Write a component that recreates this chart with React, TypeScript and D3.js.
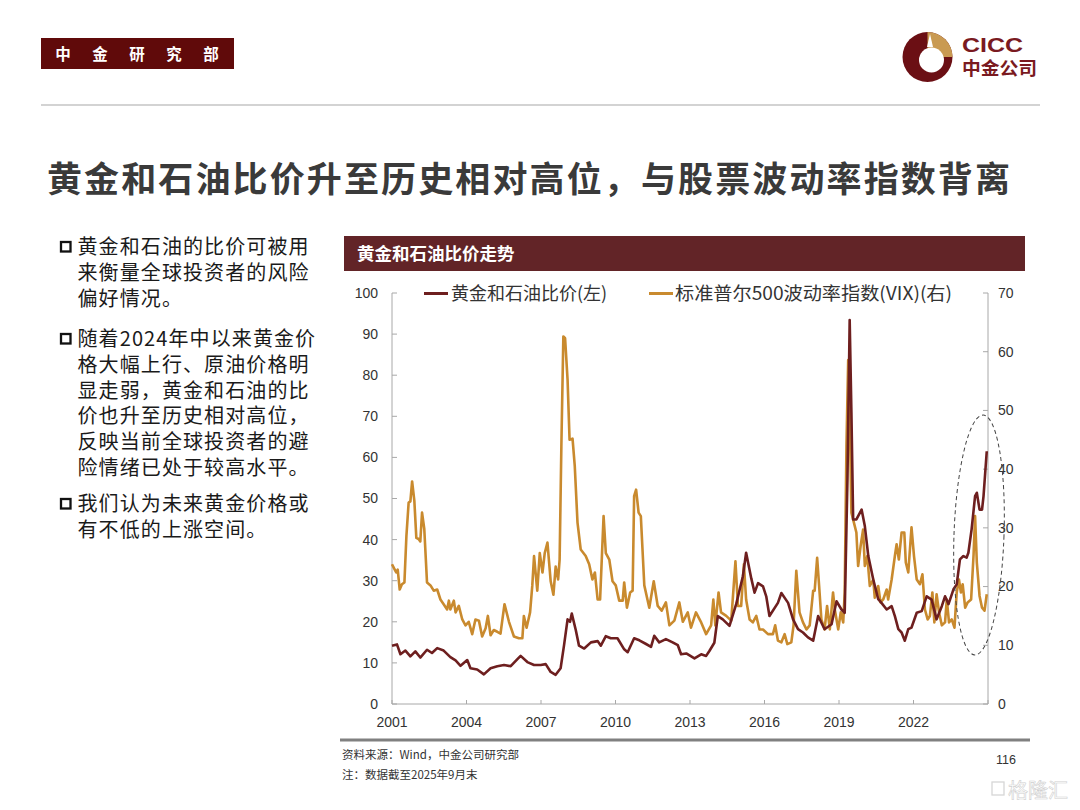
import React from "react";
import * as d3 from "d3";

// ---- data (x positions in axis-year units as displayed) ----
const ratioDates = [2001.0,2001.2,2001.34,2001.54,2001.74,2001.94,2002.14,2002.41,2002.61,2002.82,2003.08,2003.35,2003.56,2003.76,2004.03,2004.16,2004.43,2004.7,2004.97,2005.24,2005.51,2005.78,2006.05,2006.18,2006.45,2006.72,2006.99,2007.19,2007.39,2007.59,2007.79,2007.93,2008.07,2008.17,2008.24,2008.4,2008.53,2008.74,2009.01,2009.28,2009.41,2009.61,2009.81,2010.08,2010.35,2010.49,2010.75,2010.96,2011.23,2011.43,2011.56,2011.76,2012.03,2012.3,2012.51,2012.64,2012.85,2013.18,2013.45,2013.65,2013.78,2013.98,2014.12,2014.32,2014.59,2014.86,2015.13,2015.26,2015.47,2015.6,2015.74,2015.94,2016.07,2016.2,2016.54,2016.68,2016.95,2017.15,2017.35,2017.55,2017.75,2017.96,2018.16,2018.42,2018.7,2018.9,2019.1,2019.23,2019.34,2019.43,2019.5,2019.57,2019.7,2019.91,2020.04,2020.18,2020.38,2020.58,2020.71,2020.92,2021.12,2021.25,2021.39,2021.52,2021.65,2021.79,2021.92,2022.13,2022.33,2022.53,2022.73,2022.93,2023.14,2023.27,2023.41,2023.61,2023.74,2023.87,2024.01,2024.14,2024.21,2024.34,2024.48,2024.55,2024.66,2024.76,2024.82,2024.95];
const ratioValues = [14.2,14.5,12.1,13.0,11.6,12.8,11.3,13.2,12.4,13.6,13.0,11.4,10.6,9.3,10.7,8.7,8.4,7.2,8.7,9.2,9.5,9.2,10.9,11.7,10.2,9.5,9.5,9.7,7.8,7.1,8.7,14.4,20.6,20.0,22.0,18.0,14.2,13.5,15.0,15.3,14.2,16.5,16.0,16.0,13.3,12.6,16.0,15.5,14.6,13.9,16.6,15.0,15.8,15.0,14.3,12.1,12.3,11.1,12.1,11.7,12.9,14.9,21.4,20.6,19.0,24.3,31.1,36.8,30.5,27.1,29.4,28.6,26.2,21.4,24.6,27.0,24.6,20.6,18.2,17.4,16.2,15.4,21.4,18.2,19.4,25.0,23.0,22.2,54.6,93.4,70.8,44.9,44.9,47.3,43.3,36.0,30.3,25.5,24.6,23.0,23.8,21.4,18.2,17.4,15.4,18.2,18.6,22.2,22.6,26.2,25.4,20.6,23.8,26.2,24.3,27.9,29.1,35.2,36.0,35.6,36.8,42.5,50.6,51.4,47.3,47.3,50.6,61.5];

const vixDates = [2001.0,2001.11,2001.17,2001.23,2001.31,2001.4,2001.5,2001.58,2001.67,2001.74,2001.81,2001.9,2001.98,2002.07,2002.14,2002.21,2002.3,2002.41,2002.55,2002.68,2002.82,2002.95,2003.08,2003.22,2003.29,2003.35,2003.49,2003.56,2003.69,2003.83,2003.96,2004.09,2004.23,2004.36,2004.5,2004.63,2004.77,2004.86,2004.97,2005.1,2005.24,2005.37,2005.53,2005.71,2005.91,2006.11,2006.25,2006.31,2006.42,2006.56,2006.65,2006.72,2006.85,2006.95,2007.06,2007.15,2007.26,2007.39,2007.5,2007.59,2007.69,2007.75,2007.82,2007.9,2007.97,2008.07,2008.15,2008.27,2008.36,2008.47,2008.6,2008.8,2008.94,2009.07,2009.17,2009.28,2009.38,2009.52,2009.61,2009.75,2009.88,2010.01,2010.15,2010.29,2010.35,2010.46,2010.59,2010.69,2010.75,2010.83,2010.93,2011.02,2011.16,2011.36,2011.54,2011.7,2011.86,2012.03,2012.17,2012.37,2012.57,2012.71,2012.91,2013.04,2013.24,2013.45,2013.65,2013.85,2013.94,2014.02,2014.15,2014.25,2014.46,2014.66,2014.83,2014.93,2015.06,2015.17,2015.26,2015.4,2015.53,2015.67,2015.8,2015.94,2016.14,2016.34,2016.43,2016.54,2016.68,2016.81,2016.92,2017.08,2017.17,2017.28,2017.41,2017.55,2017.69,2017.82,2017.96,2018.02,2018.12,2018.2,2018.29,2018.42,2018.52,2018.63,2018.76,2018.83,2018.97,2019.07,2019.17,2019.23,2019.3,2019.37,2019.43,2019.5,2019.57,2019.7,2019.77,2019.87,2019.97,2020.04,2020.14,2020.24,2020.38,2020.44,2020.58,2020.67,2020.78,2020.92,2020.98,2021.12,2021.25,2021.32,2021.41,2021.52,2021.63,2021.69,2021.79,2021.92,2022.02,2022.13,2022.26,2022.36,2022.46,2022.57,2022.66,2022.76,2022.84,2022.93,2023.03,2023.14,2023.27,2023.34,2023.43,2023.54,2023.65,2023.74,2023.83,2023.91,2023.98,2024.08,2024.18,2024.32,2024.42,2024.48,2024.55,2024.66,2024.76,2024.86,2024.95];
const vixValues = [23.8,22.9,22.4,22.9,19.5,20.4,20.7,28.6,34.3,34.5,37.9,34.6,28.3,28.1,27.7,32.6,29.8,20.7,20.2,19.3,19.5,17.8,17.0,16.1,17.6,16.1,17.6,15.6,16.7,14.4,13.4,14.0,11.9,14.4,14.2,11.5,12.9,15.0,11.7,12.6,12.3,12.0,17.0,14.0,11.5,11.2,11.2,15.0,13.0,15.6,20.2,25.2,19.3,25.7,22.4,25.7,27.5,20.9,18.6,23.4,21.2,24.6,43.9,62.6,62.3,55.2,45.0,45.2,40.5,30.9,26.3,25.2,23.8,21.2,22.4,17.8,17.8,32.0,25.7,24.6,20.9,20.2,17.6,17.6,20.7,16.4,19.0,19.3,35.4,36.5,32.6,32.0,20.2,16.4,20.9,16.7,15.9,17.3,13.4,14.2,17.3,14.0,15.6,13.0,15.6,13.9,11.9,13.4,17.8,13.4,19.0,15.6,15.0,14.2,24.3,16.7,16.7,23.8,17.8,14.4,13.9,15.0,12.7,12.7,11.9,11.9,13.4,10.8,10.5,11.9,10.2,10.5,13.4,22.7,15.6,13.9,12.7,13.4,19.3,19.3,24.9,20.1,14.4,12.7,16.7,12.7,19.0,16.1,12.7,15.6,13.9,19.0,43.9,58.6,49.6,32.6,31.4,29.2,23.5,26.9,29.7,23.5,25.2,20.1,21.2,18.1,20.1,17.3,17.8,19.5,17.8,21.2,25.2,27.2,24.6,29.2,29.2,24.1,22.4,30.1,25.2,21.2,20.4,22.1,16.1,14.4,15.0,19.0,13.9,18.7,15.6,13.4,13.9,17.8,13.9,14.4,13.0,19.0,21.2,19.0,20.4,16.4,17.3,17.8,25.5,32.0,24.1,18.4,16.4,15.9,18.7];

const xTickYears = [2001, 2004, 2007, 2010, 2013, 2016, 2019, 2022, 2025];
const xTickLabels = ["2001", "2004", "2007", "2010", "2013", "2016", "2019", "2022", ""];
const leftTicks = [0, 10, 20, 30, 40, 50, 60, 70, 80, 90, 100];
const rightTicks = [0, 10, 20, 30, 40, 50, 60, 70];

const seriesNames = ["黄金和石油比价(左)", "标准普尔500波动率指数(VIX)(右)"];
const bulletGroups = [
  ["黄金和石油的比价可被用", "来衡量全球投资者的风险", "偏好情况。"],
  ["随着2024年中以来黄金价", "格大幅上行、原油价格明", "显走弱，黄金和石油的比", "价也升至历史相对高位，", "反映当前全球投资者的避", "险情绪已处于较高水平。"],
  ["我们认为未来黄金价格或", "有不低的上涨空间。"],
];
const headerChars = ["中", "金", "研", "究", "部"];

const RED = "#6e1f1f";
const ORANGE = "#c98a2e";
const CJK = "'Noto Sans CJK SC', 'Noto Sans', sans-serif";
const LAT = "'Liberation Sans', Arial, sans-serif";

export default function App() {
  const x = d3.scaleLinear().domain([2001, 2025]).range([392, 988]);
  const yL = d3.scaleLinear().domain([0, 100]).range([704, 293]);
  const yR = d3.scaleLinear().domain([0, 70]).range([704, 293]);

  const ratioPts: [number, number][] = ratioDates.map((d, i) => [d, ratioValues[i]]);
  const vixPts: [number, number][] = vixDates.map((d, i) => [d, vixValues[i]]);
  const lineL = d3.line<[number, number]>().x((d) => x(d[0])).y((d) => yL(d[1]));
  const lineR = d3.line<[number, number]>().x((d) => x(d[0])).y((d) => yR(d[1]));

  const axisCol = "#a8a8a8";
  const textCol = "#333";

  const lc = { x: 927.5, y: 57, r: 25 };
  const goldPath = `M${lc.x},${lc.y} L${lc.x},${lc.y - lc.r} A${lc.r},${lc.r} 0 0 1 ${lc.x + lc.r},${lc.y} Z`;

  const bulletStartY = [254, 346, 511];

  return (
    <svg width={1080} height={810} style={{ position: "absolute", left: 0, top: 0, background: "#fff" }}>
      <rect x={0} y={0} width={1080} height={810} fill="#fff" />
      {/* header banner */}
      <rect x={41} y={38} width={193} height={31} fill="#600a0a" />
      {headerChars.map((c, i) => (
        <text key={i} x={63 + i * 37} y={59.5} fill="#fff" fontSize={15.5} fontWeight="bold" fontFamily={CJK} textAnchor="middle">{c}</text>
      ))}
      {/* logo */}
      <circle cx={lc.x} cy={lc.y} r={lc.r} fill="#6b0f14" />
      <path d={goldPath} fill="#c99a52" />
      <circle cx={931.5} cy={60} r={12.5} fill="#fff" />
      <path d={`M927,47 L930,34 L933,47 Z`} fill="#fff" />
      <text x={962} y={52} fill="#7a1a1f" fontSize={21} fontWeight="bold" fontFamily={LAT} textLength={61} lengthAdjust="spacingAndGlyphs">CICC</text>
      <text x={962} y={75} fill="#7a1a1f" fontSize={18} fontWeight="bold" fontFamily={CJK} textLength={75} lengthAdjust="spacingAndGlyphs">中金公司</text>
      {/* header rule */}
      <line x1={41} x2={1040} y1={105} y2={105} stroke="#d3d3d3" strokeWidth={2} />
      {/* title */}
      <text x={47} y={192} fill="#3a3a3a" fontSize={35} fontWeight="bold" fontFamily={CJK} textLength={963} lengthAdjust="spacing">黄金和石油比价升至历史相对高位，与股票波动率指数背离</text>

      {/* bullets */}
      {bulletGroups.map((g, gi) => (
        <g key={gi}>
          <rect x={61} y={bulletStartY[gi] - 12} width={9.5} height={9.5} fill="none" stroke="#111" strokeWidth={2.3} />
          {g.map((line, li) => (
            <text key={li} x={77.5} y={bulletStartY[gi] + li * 25.8} fill="#1a1a1a" fontSize={20} fontFamily={CJK} letterSpacing={1.1}>{line}</text>
          ))}
        </g>
      ))}

      {/* chart header */}
      <rect x={344} y={236} width={681} height={35} fill="#622427" />
      <text x={357} y={259.5} fill="#fff" fontSize={17.5} fontWeight="bold" fontFamily={CJK}>黄金和石油比价走势</text>

      {/* legend */}
      <line x1={424} x2={448} y1={293.5} y2={293.5} stroke={RED} strokeWidth={3} />
      <text x={451} y={300} fill={textCol} fontSize={18} fontFamily={CJK}>{seriesNames[0]}</text>
      <line x1={649} x2={673} y1={293.5} y2={293.5} stroke={ORANGE} strokeWidth={3} />
      <text x={675} y={300} fill={textCol} fontSize={18} fontFamily={CJK} textLength={277} lengthAdjust="spacingAndGlyphs">{seriesNames[1]}</text>

      {/* axes */}
      <line x1={x(2001)} x2={x(2001)} y1={yL(100)} y2={yL(0)} stroke={axisCol} strokeWidth={1} />
      <line x1={x(2025)} x2={x(2025)} y1={yR(70)} y2={yR(0)} stroke={axisCol} strokeWidth={1} />
      <line x1={x(2001)} x2={x(2025)} y1={yL(0)} y2={yL(0)} stroke={axisCol} strokeWidth={1} />
      {leftTicks.map((t) => (
        <g key={"l" + t}>
          <line x1={x(2001)} x2={x(2001) + 5} y1={yL(t)} y2={yL(t)} stroke={axisCol} />
          <text x={378} y={yL(t)} dy="0.35em" textAnchor="end" fill={textCol} fontSize={14} fontFamily={LAT}>{t}</text>
        </g>
      ))}
      {rightTicks.map((t) => (
        <g key={"r" + t}>
          <line x1={x(2025) - 5} x2={x(2025)} y1={yR(t)} y2={yR(t)} stroke={axisCol} />
          <text x={998} y={yR(t)} dy="0.35em" textAnchor="start" fill={textCol} fontSize={14} fontFamily={LAT}>{t}</text>
        </g>
      ))}
      {xTickYears.map((t, i) => (
        <g key={"x" + t}>
          <line x1={x(t)} x2={x(t)} y1={yL(0)} y2={yL(0) - 4} stroke={axisCol} />
          <text x={x(t)} y={727} textAnchor="middle" fill={textCol} fontSize={14} fontFamily={LAT}>{xTickLabels[i]}</text>
        </g>
      ))}

      {/* series */}
      <path d={lineR(vixPts) || ""} fill="none" stroke={ORANGE} strokeWidth={2.6} strokeLinejoin="round" />
      <path d={lineL(ratioPts) || ""} fill="none" stroke={RED} strokeWidth={2.6} strokeLinejoin="round" />

      {/* highlight ellipse */}
      <ellipse cx={979} cy={535} rx={25} ry={120} fill="none" stroke="#444" strokeWidth={1} strokeDasharray="4,3" transform="rotate(2 979 535)" />

      {/* footer */}
      <line x1={340} x2={1030} y1={740} y2={740} stroke="#808080" strokeWidth={3} />
      <text x={342} y={759} fill={textCol} fontSize={11.5} fontFamily={CJK}>资料来源：Wind，中金公司研究部</text>
      <text x={342} y={779} fill={textCol} fontSize={11.5} fontFamily={CJK}>注：数据截至2025年9月末</text>
      <text x={996} y={764} fill={textCol} fontSize={12.5} fontFamily={LAT}>116</text>
      {/* watermark */}
      <rect x={992} y={782} width={12} height={13} fill="none" stroke="#d6d6d6" strokeWidth={1.3} />
      <text x={1008} y={798} fill="#fff" stroke="#d0d0d0" strokeWidth={0.6} fontSize={20} fontFamily={CJK}>格隆汇</text>
    </svg>
  );
}
